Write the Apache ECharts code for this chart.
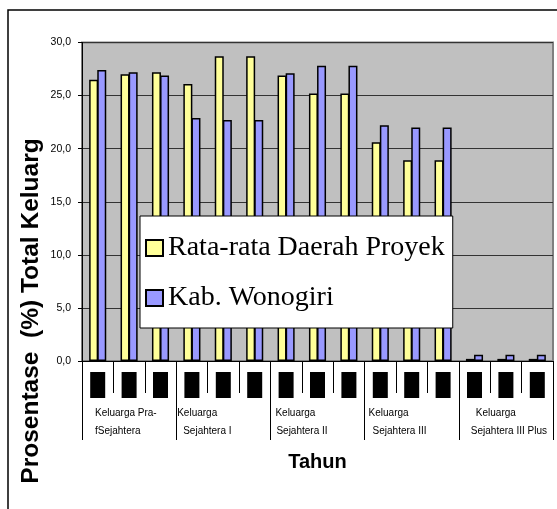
<!DOCTYPE html>
<html>
<head>
<meta charset="utf-8">
<script src="https://cdn.jsdelivr.net/npm/echarts@6/dist/echarts.min.js"></script>
<style>
  html, body { margin: 0; padding: 0; background: #fff; }
  #chart { width: 557px; height: 509px; }
</style>
</head>
<body>
<div id="chart"></div>
<script>
// Family welfare groups (major categories), three survey slots each
const groupNames = [
  'Keluarga Pra-\nfSejahtera',
  'Keluarga\nSejahtera I',
  'Keluarga\nSejahtera II',
  'Keluarga\nSejahtera III',
  'Keluarga\nSejahtera III Plus'
];
const slots = ['1','2','3','4','5','6','7','8','9','10','11','12','13','14','15'];

// Percentage of total families
const rataRata = [26.5, 27.0, 27.2, 26.1, 28.7, 28.7, 26.9, 25.2, 25.2, 20.6, 18.9, 18.9, 0.2, 0.2, 0.2];
const wonogiri = [27.4, 27.2, 26.9, 22.9, 22.7, 22.7, 27.1, 27.8, 27.8, 22.2, 22.0, 22.0, 0.6, 0.6, 0.6];

const seriesNames = ['Rata-rata Daerah Proyek', 'Kab. Wonogiri'];
const yTicks = { min: 0, max: 30, step: 5 };

const SANS = "'Liberation Sans', Arial, sans-serif";
const SERIF = "'Liberation Serif', 'Times New Roman', serif";

// left indent of each line of the group labels
const lineIndent = [[13, 13], [1, 7], [5, 6], [4, 8], [17, 12]];
const groupRich = {};
lineIndent.forEach((p, i) => {
  p.forEach((pad, j) => {
    groupRich['g' + i + '_' + j] = {
      fontFamily: SANS, fontSize: 10, color: '#000', lineHeight: 18,
      padding: [0, 0, 0, pad]
    };
  });
});

const chart = echarts.init(document.getElementById('chart'), null, { renderer: 'canvas' });

chart.setOption({
  animation: false,
  backgroundColor: '#fff',
  grid: {
    left: 82, right: 4, top: 42.5, bottom: 148,
    show: true, backgroundColor: '#C0C0C0', borderColor: '#808080', borderWidth: 2
  },
  legend: {
    orient: 'vertical',
    left: 140, top: 216,
    backgroundColor: '#fff',
    borderColor: '#000', borderWidth: 1,
    padding: [18, 8, 16, 5],
    itemWidth: 17, itemHeight: 16, itemGap: 22,
    icon: 'rect',
    itemStyle: { borderColor: '#000', borderWidth: 2 },
    textStyle: { fontFamily: SERIF, fontSize: 28, color: '#000' },
    data: seriesNames
  },
  xAxis: [
    {
      type: 'category',
      data: slots,
      position: 'bottom',
      axisLine: { show: true, lineStyle: { color: '#000', width: 1 } },
      axisTick: { show: true, length: 32, lineStyle: { color: '#000', width: 1 } },
      axisLabel: {
        interval: 0, margin: 11,
        formatter: () => '{box|}',
        rich: { box: { width: 15, height: 26, backgroundColor: '#000' } }
      },
      name: 'Tahun',
      nameLocation: 'middle',
      nameGap: 91,
      nameTextStyle: { fontFamily: SANS, fontSize: 20, fontWeight: 'bold', color: '#000' }
    },
    {
      type: 'value',
      min: 0, max: slots.length, interval: 3,
      position: 'bottom',
      axisLine: { show: false },
      splitLine: { show: false },
      axisTick: { show: true, length: 79, lineStyle: { color: '#000', width: 1 } },
      axisLabel: {
        margin: 43, align: 'left',
        showMaxLabel: true,
        formatter: (v) => {
          const i = Math.round(v / 3);
          if (i >= groupNames.length) return '';
          return groupNames[i].split('\n').map((t, j) => '{g' + i + '_' + j + '|' + t + '}').join('\n');
        },
        rich: groupRich
      }
    }
  ],
  yAxis: {
    type: 'value',
    min: yTicks.min, max: yTicks.max, interval: yTicks.step,
    axisLine: { show: true, lineStyle: { color: '#000', width: 1 } },
    axisTick: { show: true, length: 4, inside: false, lineStyle: { color: '#000' } },
    splitLine: { show: true, lineStyle: { color: '#333', width: 1 } },
    axisLabel: {
      margin: 11, fontFamily: SANS, fontSize: 10.5, color: '#000',
      formatter: (v) => v.toFixed(1).replace('.', ',')
    }
  },
  graphic: [
    {
      type: 'rect', z: -10, silent: true,
      shape: { x: 8, y: 10, width: 700, height: 700 },
      style: { fill: 'none', stroke: '#000', lineWidth: 1.5 }
    },
    {
      type: 'text', z: 10,
      x: 31, y: 311, rotation: Math.PI / 2,
      style: {
        text: 'Prosentase  (%) Total Keluarg',
        font: 'bold 24.5px ' + SANS,
        fill: '#000',
        align: 'center', verticalAlign: 'middle',
        textAlign: 'center', textVerticalAlign: 'middle'
      }
    }
  ],
  series: [
    {
      name: seriesNames[0], type: 'bar', xAxisIndex: 0,
      data: rataRata, barWidth: 9, barGap: '-10%',
      itemStyle: { color: '#FFFF99', borderColor: '#000', borderWidth: 1.5 }
    },
    {
      name: seriesNames[1], type: 'bar', xAxisIndex: 0,
      data: wonogiri, barWidth: 9, barGap: '-10%',
      itemStyle: { color: '#9999FF', borderColor: '#000', borderWidth: 1.5 }
    }
  ]
});
</script>
</body>
</html>
